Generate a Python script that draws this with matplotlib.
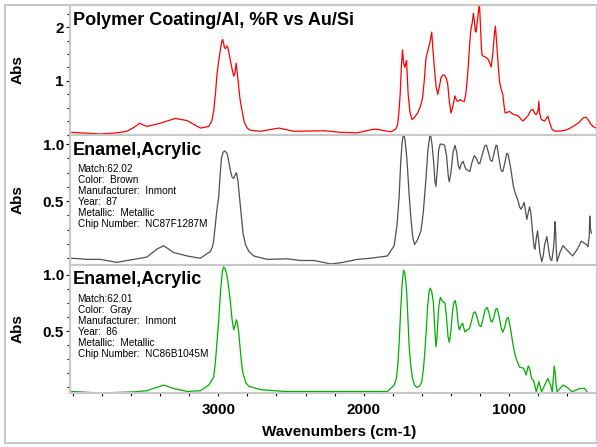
import matplotlib
matplotlib.use('Agg')
import matplotlib.pyplot as plt
from matplotlib.ticker import MultipleLocator, FixedLocator
from matplotlib.patches import Rectangle

plt.rcParams['font.family'] = ['Liberation Sans', 'DejaVu Sans']

# ---------------- data ----------------
red_wn = [4008, 3813, 3700, 3629, 3575, 3542, 3491, 3399, 3296, 3215, 3123, 3066, 3045, 3032,
          3020, 3008, 2997, 2985, 2975, 2970, 2963, 2958, 2951, 2943, 2935, 2925, 2915, 2905,
          2894, 2885, 2877, 2872, 2866, 2858, 2850, 2836, 2820, 2801, 2780, 2710, 2583, 2480,
          2273, 2158, 2043, 1951, 1916, 1813, 1780, 1767, 1758, 1749, 1740, 1733, 1725, 1716,
          1710, 1705, 1700, 1694, 1682, 1668, 1650, 1629, 1610, 1595, 1585, 1572, 1560, 1549,
          1540, 1532, 1524, 1514, 1502, 1491, 1480, 1468, 1455, 1445, 1432, 1422, 1410, 1399,
          1385, 1372, 1362, 1353, 1335, 1320, 1307, 1298, 1290, 1280, 1273, 1265, 1261, 1254,
          1245, 1238, 1232, 1227, 1215, 1204, 1196, 1190, 1185, 1165, 1146, 1135, 1123, 1112,
          1100, 1094, 1085, 1075, 1066, 1055, 1043, 1035, 1027, 997, 974, 939, 905, 870, 850,
          836, 825, 813, 800, 795, 790, 778, 756, 733, 718, 703, 680, 629, 600, 560, 520, 491,
          470, 457, 440, 422, 388]
red_abs = [0.04, 0.01, 0.03, 0.06, 0.14, 0.21, 0.15, 0.21, 0.30, 0.26, 0.12, 0.15, 0.25, 0.43,
           0.75, 1.15, 1.38, 1.60, 1.75, 1.77, 1.70, 1.62, 1.60, 1.65, 1.63, 1.50, 1.35, 1.22,
           1.09, 1.15, 1.33, 1.20, 1.06, 0.85, 0.65, 0.43, 0.22, 0.12, 0.08, 0.06, 0.12, 0.06,
           0.07, 0.04, 0.03, 0.09, 0.10, 0.05, 0.10, 0.18, 0.40, 0.75, 1.30, 1.58, 1.32, 1.25,
           1.34, 1.38, 1.10, 0.75, 0.42, 0.28, 0.32, 0.40, 0.52, 0.68, 0.95, 1.41, 1.55, 1.66,
           1.78, 1.91, 1.60, 1.25, 0.90, 0.75, 0.88, 1.06, 1.11, 1.11, 1.05, 0.94, 0.60, 0.40,
           0.55, 0.72, 0.64, 0.62, 0.65, 0.62, 0.62, 0.75, 0.95, 1.30, 1.60, 1.90, 1.98, 2.07,
           2.26, 2.10, 1.92, 1.91, 2.20, 2.45, 2.00, 1.60, 1.47, 1.45, 1.41, 1.35, 1.26, 1.50,
           1.90, 2.02, 1.70, 1.30, 1.00, 0.85, 0.75, 0.55, 0.40, 0.43, 0.38, 0.35, 0.25, 0.35, 0.45,
           0.47, 0.40, 0.37, 0.45, 0.62, 0.40, 0.28, 0.25, 0.34, 0.20, 0.09, 0.06, 0.07, 0.09, 0.15, 0.22, 0.31,
           0.32, 0.28, 0.20, 0.15, 0.10]

gray_wn = [4008, 3900, 3813, 3698, 3583, 3491, 3422, 3376, 3307, 3215, 3123, 3054, 3040, 3032,
           3020, 3010, 2997, 2988, 2978, 2967, 2955, 2940, 2928, 2917, 2905, 2894, 2884, 2875,
           2865, 2852, 2840, 2830, 2813, 2790, 2756, 2663, 2526, 2434, 2342, 2227, 2158, 2043,
           1951, 1836, 1790, 1770, 1756, 1745, 1735, 1726, 1716, 1706, 1698, 1687, 1675, 1662,
           1650, 1630, 1606, 1590, 1572, 1558, 1542, 1530, 1519, 1510, 1503, 1495, 1484, 1474,
           1458, 1443, 1430, 1418, 1411, 1400, 1385, 1372, 1360, 1350, 1340, 1328, 1316, 1306,
           1296, 1283, 1270, 1255, 1239, 1222, 1210, 1201, 1180, 1165, 1155, 1140, 1128, 1116,
           1100, 1090, 1083, 1070, 1055, 1043, 1030, 1016, 1006, 990, 970, 955, 939, 928, 918,
           906, 896, 887, 878, 868, 859, 850, 836, 828, 822, 812, 804, 795, 788, 775, 765, 755,
           740, 732, 725, 715, 706, 695, 690, 684, 679, 676, 670, 650, 629, 600, 562, 530, 503,
           480, 468, 457, 448, 445, 440, 434]
gray_abs = [0.00, -0.01, -0.01, -0.036, -0.01, 0.01, 0.08, 0.11, 0.05, 0.02, 0.00, 0.06, 0.10, 0.15,
            0.30, 0.42, 0.54, 0.72, 0.88, 0.93, 0.94, 0.92, 0.85, 0.77, 0.71, 0.70, 0.73, 0.75,
            0.68, 0.51, 0.35, 0.22, 0.12, 0.06, 0.02, -0.01, -0.005, -0.02, -0.02, -0.05, -0.04, -0.01,
            0.00, 0.02, 0.11, 0.30, 0.54, 0.85, 1.02, 1.10, 1.04, 0.92, 0.78, 0.55, 0.35, 0.18,
            0.12, 0.16, 0.24, 0.40, 0.69, 0.95, 1.10, 1.00, 0.85, 0.68, 0.63, 0.75, 0.95, 1.00,
            1.00, 0.99, 0.90, 0.72, 0.67, 0.75, 0.93, 0.99, 0.93, 0.82, 0.78, 0.83, 0.85, 0.81,
            0.78, 0.77, 0.76, 0.84, 0.90, 0.87, 0.83, 0.83, 0.93, 0.99, 0.99, 0.92, 0.86, 0.85,
            0.94, 0.99, 0.99, 0.88, 0.77, 0.76, 0.83, 0.92, 0.91, 0.80, 0.63, 0.56, 0.51, 0.45, 0.43,
            0.46, 0.49, 0.42, 0.34, 0.40, 0.45, 0.40, 0.20, 0.10, 0.08, 0.18, 0.24, 0.14, 0.05, -0.03, 0.02, 0.12,
            0.19, 0.12, 0.05, -0.01, -0.02, 0.08, 0.15, 0.32, 0.22, 0.10, -0.03, 0.05, 0.11, 0.07, 0.02, 0.08, 0.15,
            0.13, 0.12, 0.10, 0.20, 0.37, 0.26, 0.22]

green_wn = [4008, 3813, 3583, 3491, 3450, 3422, 3376, 3307, 3215, 3123, 3066, 3032, 3020, 3010,
            2997, 2985, 2972, 2963, 2952, 2940, 2928, 2917, 2905, 2894, 2885, 2875, 2867, 2859,
            2845, 2835, 2829, 2810, 2790, 2710, 2549, 2434, 2158, 1836, 1790, 1775, 1765, 1755,
            1745, 1735, 1726, 1718, 1710, 1703, 1695, 1687, 1675, 1664, 1650, 1634, 1615, 1600,
            1590, 1580, 1570, 1560, 1550, 1542, 1532, 1521, 1512, 1503, 1495, 1485, 1473, 1457,
            1441, 1430, 1420, 1411, 1400, 1388, 1378, 1370, 1360, 1350, 1342, 1330, 1319, 1310,
            1303, 1290, 1273, 1260, 1245, 1232, 1220, 1205, 1192, 1180, 1165, 1151, 1138, 1126,
            1116, 1105, 1092, 1082, 1070, 1055, 1043, 1030, 1016, 1004, 990, 974, 960, 950, 928,
            900, 882, 868, 859, 845, 831, 813, 795, 776, 755, 733, 715, 703, 689, 682, 676, 670,
            629, 600, 565, 514, 480, 457, 427]
green_abs = [-0.036, -0.05, -0.04, -0.03, -0.01, 0.00, 0.02, -0.01, -0.036, -0.03, 0.02, 0.09, 0.22, 0.38,
             0.60, 0.85, 1.03, 1.07, 1.05, 0.99, 0.88, 0.76, 0.60, 0.51, 0.55, 0.60, 0.56, 0.48,
             0.28, 0.16, 0.12, 0.04, 0.01, -0.02, -0.036, -0.036, -0.036, -0.036, 0.02, 0.08, 0.20, 0.42,
             0.70, 0.92, 1.04, 1.02, 0.94, 0.82, 0.60, 0.36, 0.18, 0.08, 0.02, 0.00, 0.01, 0.05,
             0.15, 0.30, 0.50, 0.72, 0.85, 0.88, 0.85, 0.76, 0.55, 0.36, 0.45, 0.70, 0.80, 0.76,
             0.75, 0.62, 0.45, 0.40, 0.50, 0.68, 0.76, 0.77, 0.70, 0.56, 0.51, 0.55, 0.57, 0.52,
             0.49, 0.51, 0.52, 0.58, 0.66, 0.67, 0.62, 0.55, 0.54, 0.60, 0.69, 0.71, 0.66, 0.59,
             0.58, 0.62, 0.69, 0.70, 0.64, 0.53, 0.49, 0.53, 0.61, 0.62, 0.52, 0.39, 0.30, 0.25, 0.18,
             0.17, 0.11, 0.19, 0.17, 0.08, 0.06, -0.04, 0.05, -0.04, 0.02, 0.08, 0.02, -0.04, 0.19, 0.12, 0.02, -0.04,
             0.02, 0.00, -0.04, -0.01, -0.01, -0.05, -0.05]

titles = ["Polymer Coating/Al, %R vs Au/Si", "Enamel,Acrylic", "Enamel,Acrylic"]
info2 = ["Match:62.02", "Color:  Brown", "Manufacturer:  Inmont", "Year:  87",
         "Metallic:  Metallic", "Chip Number:  NC87F1287M"]
info3 = ["Match:62.01", "Color:  Gray", "Manufacturer:  Inmont", "Year:  86",
         "Metallic:  Metallic", "Chip Number:  NC86B1045M"]
xticks = [3000, 2000, 1000]
xlabel = "Wavenumbers (cm-1)"
ylabel = "Abs"

# ---------------- figure ----------------
W, H = 597, 447
fig = plt.figure(figsize=(W / 100, H / 100), dpi=100)
fig.patch.set_facecolor('white')

FRAME = '#c8c8c8'
fig.add_artist(Rectangle((5 / W, 1 - 443 / H), (597 - 5) / W, (443 - 5) / H,
                         transform=fig.transFigure, fill=False, edgecolor=FRAME, lw=1.5))

def rect(top, bottom, left=70, right=597):
    return [left / W, 1 - bottom / H, (right - left) / W, (bottom - top) / H]

panels = [
    dict(r=rect(5, 134.5), wn=red_wn, a=red_abs, c='#ff0000', ylim=(0.0, 2.415),
         yt=[1, 2], ytl=['1', '2'], minor=0.25, info=None),
    dict(r=rect(134.5, 264.5), wn=gray_wn, a=gray_abs, c='#505050', ylim=(-0.055, 1.085),
         yt=[0.5, 1.0], ytl=['0.5', '1.0'], minor=0.125, info=info2),
    dict(r=rect(264.5, 393), wn=green_wn, a=green_abs, c='#00b000', ylim=(-0.05, 1.09),
         yt=[0.5, 1.0], ytl=['0.5', '1.0'], minor=0.125, info=info3),
]

for i, p in enumerate(panels):
    ax = fig.add_axes(p['r'])
    ax.plot(p['wn'], p['a'], color=p['c'], lw=0.9)
    ax.set_xlim(4020, 395)
    ax.set_ylim(*p['ylim'])
    for s in ax.spines.values():
        s.set_color(FRAME)
        s.set_linewidth(1.5)
    ax.yaxis.set_major_locator(FixedLocator(p['yt']))
    ax.set_yticklabels(p['ytl'], fontsize=11, fontweight='bold')
    ax.yaxis.set_minor_locator(MultipleLocator(p['minor']))
    ax.tick_params(axis='y', which='both', direction='out', length=3, width=0.8,
                   color='black', pad=1.5)
    ax.tick_params(axis='y', which='minor', length=2)
    if i < 2:
        ax.tick_params(axis='x', which='both', bottom=False, labelbottom=False)
    else:
        ax.xaxis.set_major_locator(FixedLocator(xticks))
        ax.set_xticklabels([str(v) for v in xticks], fontsize=11, fontweight='bold')
        ax.xaxis.set_minor_locator(MultipleLocator(200))
        ax.tick_params(axis='x', which='both', direction='out', length=2.5, width=0.8,
                       color='black', pad=5)
    top_px = (1 - p['r'][1] - p['r'][3]) * H
    hpx = p['r'][3] * H
    ax.text(3 / 527, 1 - 20 / hpx, titles[i], transform=ax.transAxes,
            fontsize=13, fontweight='bold', va='baseline', ha='left')
    if p['info']:
        for k, line in enumerate(p['info']):
            ax.text(7.5 / 527, 1 - (34 + 11.1 * k) / hpx, line, transform=ax.transAxes,
                    fontsize=7.2, va='center', ha='left')
    cy = 1 - (top_px + hpx / 2) / H
    fig.text(18 / W, cy, ylabel, rotation=90, fontsize=11, fontweight='bold',
             ha='center', va='center')

fig.text(339 / W, 1 - 432 / H, xlabel, fontsize=11, fontweight='bold',
         ha='center', va='center')

fig.savefig('out.png', dpi=100)
